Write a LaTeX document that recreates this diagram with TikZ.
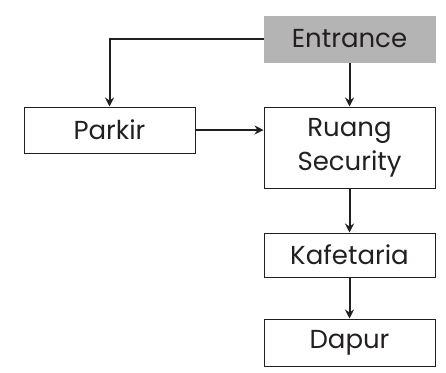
\documentclass[tikz,border=0pt]{standalone}
\usepackage{fontspec}
\setmainfont{Poppins}
\usetikzlibrary{arrows.meta}
\definecolor{boxgray}{HTML}{B4B4B4}
\definecolor{ink}{HTML}{231F20}

\begin{document}
\begin{tikzpicture}[x=1pt, y=-1pt,
    every node/.style={font=\fontsize{26}{34}\selectfont, text=ink},
    room/.style={rectangle, draw=ink, line width=1pt, minimum width=171pt,
        minimum height=46pt, align=center, inner sep=0pt},
    flow/.style={-{Stealth[length=9pt, width=9pt]}, line width=2pt, draw=ink},
]
\useasboundingbox (0,0) rectangle (446,372);
% Rooms
\node[room, fill=boxgray, draw=boxgray] (entrance) at (349.5,39) {Entrance};
\node[room] (parkir) at (109.5,130) {Parkir};
\node[room, minimum height=81pt] (security) at (349.5,147.5) {Ruang\\Security};
\node[room, minimum height=44pt] (kafetaria) at (349.5,255) {Kafetaria};
\node[room, minimum height=47pt] (dapur) at (349.5,342.5) {Dapur};

% Flow
\draw[flow] (entrance.west) -| (parkir.north);
\draw[flow] (entrance) -- (security);
\draw[flow] (parkir.east) -- (parkir.east -| security.west);
\draw[flow] (security) -- (kafetaria);
\draw[flow] (kafetaria) -- (dapur);
\end{tikzpicture}
\end{document}
